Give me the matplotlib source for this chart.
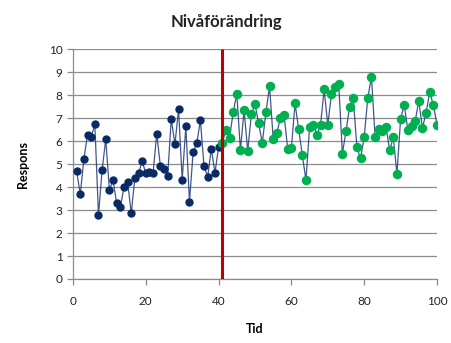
import matplotlib
matplotlib.use("Agg")
import matplotlib.pyplot as plt
import numpy as np

# Respons per tidpunkt: baslinje (1-40) och efter förändringen (41-100)
time_before = list(range(1, 41))
resp_before = [4.68, 3.70, 5.23, 6.29, 6.17, 6.74, 2.78, 4.74, 6.09, 3.88,
               4.29, 3.29, 3.13, 3.99, 4.23, 2.86, 4.41, 4.61, 5.12, 4.62,
               4.67, 4.62, 6.33, 4.93, 4.81, 4.48, 6.97, 5.86, 7.38, 4.32,
               6.65, 3.36, 5.52, 5.90, 6.91, 4.90, 4.45, 5.67, 4.62, 5.75]
time_after = list(range(41, 101))
resp_after = [5.93, 6.48, 6.13, 7.25, 8.07, 5.61, 7.35, 5.57, 7.17, 7.61,
              6.77, 5.93, 7.25, 8.39, 6.10, 6.35, 7.03, 7.13, 5.64, 5.71,
              7.64, 6.52, 5.39, 4.30, 6.62, 6.72, 6.29, 6.70, 8.26, 6.70,
              8.04, 8.36, 8.51, 5.46, 6.43, 7.50, 7.86, 5.73, 5.25, 6.19,
              7.90, 8.80, 6.16, 6.55, 6.43, 6.62, 5.61, 6.16, 4.57, 6.97,
              7.58, 6.48, 6.65, 6.87, 7.75, 6.58, 7.23, 8.14, 7.57, 6.72]
change_point = 41

x_ticks = [0, 20, 40, 60, 80, 100]
y_ticks = list(range(0, 11))

plt.rcParams["font.family"] = ["Lato", "DejaVu Sans"]

fig = plt.figure(figsize=(4.52, 3.43), dpi=100, facecolor="white")
ax = fig.add_axes([0.1615, 0.1866, 0.8053, 0.6697])

grid_col = "#8c8c8c"
ax.set_xlim(0, 100)
ax.set_ylim(0, 10)
ax.set_yticks(y_ticks)
ax.set_xticks(x_ticks)
ax.yaxis.grid(True, color=grid_col, linewidth=0.9)
ax.set_axisbelow(True)
for side in ("top", "right"):
    ax.spines[side].set_visible(False)
for side in ("left", "bottom"):
    ax.spines[side].set_color(grid_col)
    ax.spines[side].set_linewidth(0.9)
ax.tick_params(axis="both", direction="out", length=4, width=0.9,
               color=grid_col, labelsize=8.5, labelcolor="#222222")
ax.tick_params(axis="x", pad=8)

# connecting line through the whole series
all_t = time_before + time_after
all_r = resp_before + resp_after
ax.plot(all_t, all_r, color="#1f3a78", linewidth=0.9, alpha=0.85, zorder=3)

ax.plot(time_before, resp_before, linestyle="none", marker="o",
        markersize=5, color="#0a2a66", markeredgecolor="#0a2a66", zorder=4)
ax.plot(time_after, resp_after, linestyle="none", marker="o",
        markersize=5.8, color="#00b050", markeredgecolor="#00b050", zorder=4)

ax.vlines(change_point, 0, 10, color="#c00000", linewidth=2.2, zorder=5)

ax.set_xlabel("Tid", fontsize=9, fontweight="bold", labelpad=12)
ax.set_ylabel("Respons", fontsize=9, fontweight="bold", labelpad=14)
fig.text(0.5, 0.935, "Nivåförändring", ha="center", va="center",
         fontsize=12, fontweight="bold", color="#222222")

fig.savefig("out.png", dpi=100)
